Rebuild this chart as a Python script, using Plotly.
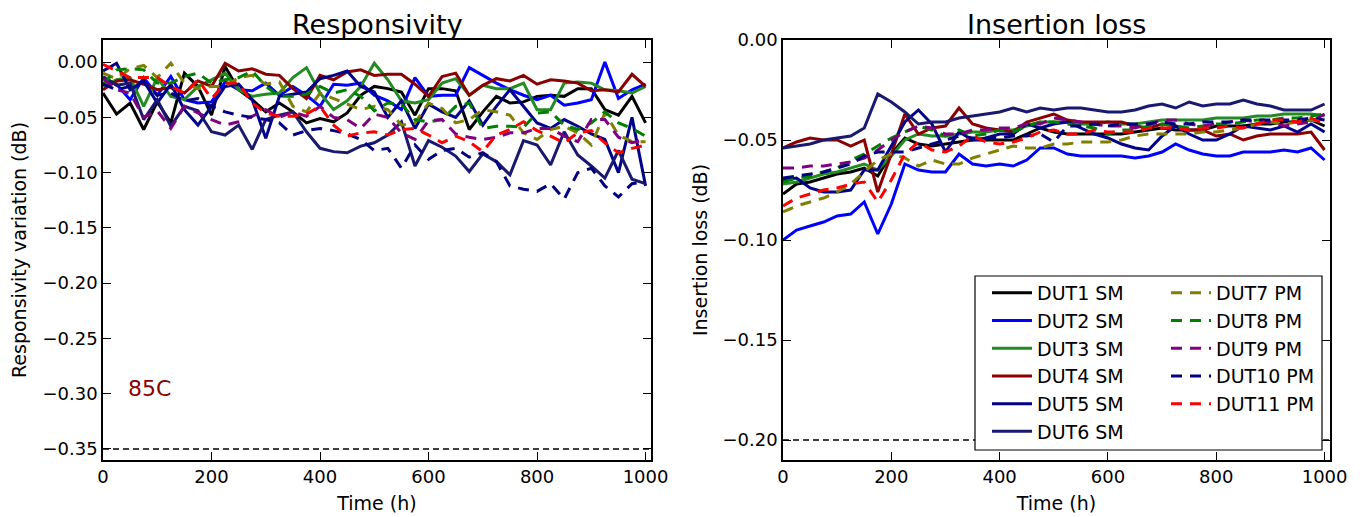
import plotly.graph_objects as go

# Time axis (h)
time_h = [0, 25, 50, 75, 100, 125, 150, 175, 200, 225, 250, 275, 300, 325, 350, 375, 400, 425, 450, 475,
          500, 525, 550, 575, 600, 625, 650, 675, 700, 725, 750, 775, 800, 825, 850, 875, 900, 925, 950, 975, 1000]

# Responsivity variation (dB)
resp_dut1 = [-0.028, -0.047, -0.037, -0.061, -0.036, -0.055, -0.010, -0.022, -0.048, -0.004, -0.025, -0.034, -0.045, -0.037, -0.045, -0.055, -0.051, -0.054, -0.046, -0.030,
             -0.022, -0.024, -0.027, -0.048, -0.024, -0.024, -0.026, -0.061, -0.045, -0.031, -0.037, -0.036, -0.031, -0.030, -0.031, -0.024, -0.024, -0.043, -0.048, -0.031, -0.055]
resp_dut2 = [-0.014, -0.020, -0.034, -0.014, -0.030, -0.013, -0.034, -0.037, -0.036, -0.018, -0.025, -0.026, -0.019, -0.030, -0.022, -0.030, -0.040, -0.020, -0.021, -0.019,
             -0.030, -0.035, -0.043, -0.014, -0.031, -0.030, -0.030, -0.005, -0.012, -0.019, -0.025, -0.030, -0.034, -0.030, -0.039, -0.037, -0.034, 0.000, -0.033, -0.025, -0.020]
resp_dut3 = [-0.022, -0.016, -0.014, -0.040, -0.014, -0.031, -0.034, -0.022, -0.016, -0.010, -0.025, -0.031, -0.029, -0.028, -0.014, -0.005, -0.028, -0.043, -0.035, -0.022,
             -0.001, -0.016, -0.035, -0.037, -0.034, -0.019, -0.015, -0.030, -0.021, -0.024, -0.024, -0.019, -0.043, -0.043, -0.019, -0.018, -0.019, -0.025, -0.026, -0.028, -0.022]
resp_dut4 = [-0.025, -0.017, -0.016, -0.020, -0.025, -0.023, -0.028, -0.017, -0.022, -0.001, -0.008, -0.006, -0.011, -0.012, -0.024, -0.033, -0.012, -0.016, -0.009, -0.007,
             -0.012, -0.011, -0.011, -0.020, -0.031, -0.013, -0.010, -0.030, -0.021, -0.015, -0.017, -0.012, -0.020, -0.016, -0.017, -0.019, -0.026, -0.025, -0.027, -0.011, -0.022]
resp_dut5 = [-0.008, -0.001, -0.025, -0.017, -0.037, -0.020, -0.043, -0.057, -0.040, -0.022, -0.020, -0.034, -0.069, -0.031, -0.029, -0.027, -0.015, -0.012, -0.008, -0.022,
             -0.027, -0.050, -0.035, -0.060, -0.038, -0.045, -0.050, -0.035, -0.057, -0.040, -0.025, -0.040, -0.055, -0.060, -0.052, -0.058, -0.065, -0.070, -0.100, -0.050, -0.112]
resp_dut6 = [-0.013, -0.021, -0.019, -0.052, -0.034, -0.058, -0.040, -0.044, -0.063, -0.066, -0.057, -0.079, -0.052, -0.048, -0.045, -0.063, -0.078, -0.081, -0.082, -0.076,
             -0.073, -0.066, -0.054, -0.094, -0.071, -0.077, -0.085, -0.099, -0.083, -0.090, -0.102, -0.071, -0.075, -0.093, -0.063, -0.084, -0.094, -0.105, -0.080, -0.106, -0.110]
resp_dut7 = [-0.010, -0.015, -0.006, -0.003, -0.014, -0.001, -0.019, -0.024, -0.022, -0.022, -0.014, -0.012, -0.020, -0.018, -0.040, -0.045, -0.028, -0.033, -0.038, -0.043,
             -0.040, -0.043, -0.057, -0.055, -0.037, -0.042, -0.055, -0.052, -0.043, -0.045, -0.048, -0.064, -0.070, -0.061, -0.058, -0.064, -0.075, -0.046, -0.066, -0.072, -0.072]
resp_dut8 = [-0.020, -0.007, -0.006, -0.007, -0.019, -0.019, -0.013, -0.010, -0.019, -0.016, -0.014, -0.008, -0.022, -0.031, -0.031, -0.029, -0.022, -0.028, -0.025, -0.031,
             -0.044, -0.037, -0.038, -0.052, -0.054, -0.052, -0.040, -0.037, -0.060, -0.058, -0.058, -0.059, -0.046, -0.045, -0.057, -0.061, -0.055, -0.045, -0.055, -0.060, -0.067]
resp_dut9 = [-0.015, -0.025, -0.028, -0.050, -0.044, -0.060, -0.040, -0.046, -0.052, -0.057, -0.054, -0.049, -0.043, -0.050, -0.045, -0.049, -0.040, -0.050, -0.052, -0.060,
             -0.047, -0.050, -0.064, -0.070, -0.053, -0.052, -0.065, -0.068, -0.070, -0.068, -0.064, -0.064, -0.060, -0.060, -0.067, -0.072, -0.052, -0.052, -0.068, -0.073, -0.070]
resp_dut10 = [-0.020, -0.025, -0.022, -0.018, -0.030, -0.028, -0.035, -0.033, -0.040, -0.045, -0.048, -0.050, -0.052, -0.055, -0.066, -0.062, -0.060, -0.062, -0.065, -0.070,
              -0.080, -0.078, -0.096, -0.075, -0.088, -0.080, -0.078, -0.086, -0.082, -0.090, -0.112, -0.115, -0.117, -0.110, -0.124, -0.100, -0.096, -0.112, -0.122, -0.110, -0.108]
resp_dut11 = [-0.002, -0.008, -0.014, -0.014, -0.014, -0.022, -0.028, -0.016, -0.033, -0.019, -0.019, -0.037, -0.046, -0.049, -0.049, -0.047, -0.040, -0.057, -0.067, -0.064,
              -0.063, -0.066, -0.061, -0.060, -0.066, -0.073, -0.067, -0.072, -0.081, -0.066, -0.061, -0.054, -0.062, -0.067, -0.073, -0.064, -0.062, -0.073, -0.082, -0.078, -0.075]

# Insertion loss (dB)
il_dut1 = [-0.077, -0.072, -0.071, -0.069, -0.067, -0.066, -0.064, -0.068, -0.057, -0.049, -0.052, -0.053, -0.052, -0.051, -0.050, -0.050, -0.050, -0.050, -0.047, -0.044,
           -0.046, -0.047, -0.047, -0.047, -0.047, -0.047, -0.046, -0.045, -0.044, -0.045, -0.045, -0.045, -0.043, -0.043, -0.043, -0.042, -0.042, -0.041, -0.041, -0.040, -0.043]
il_dut2 = [-0.100, -0.095, -0.093, -0.091, -0.088, -0.087, -0.081, -0.097, -0.082, -0.062, -0.065, -0.066, -0.066, -0.057, -0.062, -0.063, -0.062, -0.063, -0.060, -0.054,
           -0.054, -0.057, -0.058, -0.058, -0.058, -0.058, -0.059, -0.058, -0.056, -0.052, -0.055, -0.057, -0.058, -0.058, -0.056, -0.056, -0.056, -0.055, -0.056, -0.054, -0.060]
il_dut3 = [-0.072, -0.071, -0.069, -0.067, -0.066, -0.064, -0.062, -0.065, -0.058, -0.050, -0.047, -0.048, -0.048, -0.047, -0.046, -0.046, -0.045, -0.045, -0.043, -0.041,
           -0.041, -0.041, -0.042, -0.042, -0.041, -0.042, -0.042, -0.041, -0.040, -0.040, -0.040, -0.040, -0.039, -0.039, -0.039, -0.038, -0.038, -0.037, -0.037, -0.037, -0.038]
il_dut4 = [-0.054, -0.051, -0.049, -0.050, -0.050, -0.053, -0.050, -0.076, -0.057, -0.037, -0.047, -0.044, -0.043, -0.034, -0.042, -0.044, -0.045, -0.046, -0.041, -0.039,
           -0.037, -0.040, -0.041, -0.041, -0.041, -0.041, -0.043, -0.044, -0.042, -0.043, -0.045, -0.045, -0.048, -0.047, -0.050, -0.048, -0.047, -0.047, -0.047, -0.046, -0.055]
il_dut5 = [-0.070, -0.069, -0.074, -0.076, -0.076, -0.075, -0.065, -0.065, -0.053, -0.041, -0.035, -0.042, -0.056, -0.046, -0.050, -0.049, -0.047, -0.047, -0.042, -0.044,
           -0.042, -0.041, -0.044, -0.047, -0.049, -0.052, -0.054, -0.055, -0.048, -0.043, -0.047, -0.050, -0.050, -0.047, -0.043, -0.044, -0.045, -0.043, -0.046, -0.042, -0.046]
il_dut6 = [-0.054, -0.053, -0.052, -0.050, -0.049, -0.048, -0.044, -0.027, -0.031, -0.036, -0.042, -0.041, -0.041, -0.039, -0.038, -0.037, -0.036, -0.034, -0.036, -0.034,
           -0.035, -0.034, -0.034, -0.035, -0.036, -0.036, -0.035, -0.033, -0.032, -0.034, -0.031, -0.033, -0.032, -0.032, -0.030, -0.032, -0.033, -0.035, -0.035, -0.035, -0.032]
il_dut7 = [-0.086, -0.083, -0.081, -0.079, -0.076, -0.072, -0.066, -0.060, -0.057, -0.059, -0.063, -0.060, -0.062, -0.062, -0.059, -0.057, -0.055, -0.053, -0.054, -0.054,
           -0.052, -0.052, -0.051, -0.051, -0.051, -0.050, -0.048, -0.047, -0.047, -0.047, -0.047, -0.046, -0.046, -0.045, -0.044, -0.042, -0.041, -0.042, -0.041, -0.040, -0.041]
il_dut8 = [-0.071, -0.069, -0.068, -0.066, -0.064, -0.060, -0.057, -0.053, -0.049, -0.046, -0.043, -0.045, -0.048, -0.045, -0.048, -0.047, -0.045, -0.046, -0.043, -0.041,
           -0.041, -0.042, -0.043, -0.044, -0.047, -0.045, -0.045, -0.043, -0.042, -0.043, -0.044, -0.043, -0.042, -0.042, -0.041, -0.040, -0.040, -0.039, -0.039, -0.038, -0.037]
il_dut9 = [-0.064, -0.064, -0.063, -0.063, -0.062, -0.061, -0.059, -0.055, -0.050, -0.046, -0.043, -0.044, -0.047, -0.047, -0.045, -0.045, -0.044, -0.044, -0.042, -0.042,
           -0.039, -0.040, -0.041, -0.042, -0.043, -0.043, -0.044, -0.042, -0.040, -0.040, -0.042, -0.043, -0.042, -0.041, -0.040, -0.041, -0.041, -0.043, -0.042, -0.041, -0.037]
il_dut10 = [-0.069, -0.068, -0.067, -0.066, -0.064, -0.062, -0.058, -0.056, -0.056, -0.056, -0.054, -0.052, -0.050, -0.048, -0.049, -0.049, -0.049, -0.048, -0.048, -0.047,
            -0.051, -0.043, -0.043, -0.042, -0.043, -0.042, -0.042, -0.042, -0.041, -0.042, -0.042, -0.041, -0.041, -0.041, -0.040, -0.040, -0.040, -0.040, -0.040, -0.039, -0.040]
il_dut11 = [-0.083, -0.079, -0.077, -0.075, -0.074, -0.072, -0.071, -0.081, -0.070, -0.057, -0.051, -0.055, -0.056, -0.053, -0.048, -0.051, -0.052, -0.051, -0.049, -0.046,
            -0.045, -0.047, -0.047, -0.045, -0.046, -0.046, -0.046, -0.044, -0.044, -0.044, -0.045, -0.044, -0.044, -0.043, -0.044, -0.042, -0.040, -0.040, -0.041, -0.039, -0.042]

names = ["DUT1 SM", "DUT2 SM", "DUT3 SM", "DUT4 SM", "DUT5 SM", "DUT6 SM",
         "DUT7 PM", "DUT8 PM", "DUT9 PM", "DUT10 PM", "DUT11 PM"]
colors = ["#000000", "#0000FF", "#228B22", "#8B0000", "#00008B", "#191970",
          "#808000", "#008000", "#800080", "#000080", "#FF0000"]
resp_all = [resp_dut1, resp_dut2, resp_dut3, resp_dut4, resp_dut5, resp_dut6,
            resp_dut7, resp_dut8, resp_dut9, resp_dut10, resp_dut11]
il_all = [il_dut1, il_dut2, il_dut3, il_dut4, il_dut5, il_dut6,
          il_dut7, il_dut8, il_dut9, il_dut10, il_dut11]

resp_limit = -0.35
il_limit = -0.20

font_family = "DejaVu Sans"

# the page body has an 8px margin, so the figure is sized to fit the window
OFF = 8
W, H = 1368 - OFF, 517 - OFF


def fx(px):
    return (px - OFF) / W


def fy(py):
    return 1 - (py - OFF) / H


fig = go.Figure()

for name, col, resp, il in zip(names, colors, resp_all, il_all):
    pm = name.endswith("PM")
    line = dict(color=col, width=3, dash="11px,8px" if pm else "solid")
    fig.add_trace(go.Scatter(x=time_h, y=resp, mode="lines", name=name, line=line,
                             xaxis="x", yaxis="y", showlegend=False))
    fig.add_trace(go.Scatter(x=time_h, y=il, mode="lines", name=name, line=line,
                             xaxis="x2", yaxis="y2",
                             legend="legend2" if pm else "legend"))

# Dashed limit lines
fig.add_shape(type="line", xref="x domain", yref="y", x0=0, x1=1, y0=resp_limit, y1=resp_limit,
              line=dict(color="black", width=1.5, dash="6px,4px"))
fig.add_shape(type="line", xref="x2 domain", yref="y2", x0=0, x1=1, y0=il_limit, y1=il_limit,
              line=dict(color="black", width=1.5, dash="6px,4px"))

# Legend frame (two columns)
fig.add_shape(type="rect", xref="paper", yref="paper",
              x0=fx(975), x1=fx(1322), y0=fy(450), y1=fy(276),
              line=dict(color="black", width=1.2), fillcolor="white", layer="above")

yd = [fy(460), fy(40)]
axis_common = dict(showline=True, linecolor="black", linewidth=1.5, mirror="ticks",
                   ticks="inside", ticklen=8, tickwidth=1.2, tickcolor="black",
                   showgrid=False, zeroline=False, automargin=False,
                   tickfont=dict(family=font_family, size=18, color="black"))

fig.update_layout(
    width=W, height=H,
    margin=dict(l=0, r=0, t=0, b=0),
    paper_bgcolor="white", plot_bgcolor="white",
    font=dict(family=font_family, color="black"),
    xaxis=dict(domain=[fx(103), fx(651)], range=[0, 1010], tickvals=[0, 200, 400, 600, 800, 1000],
               title=dict(text="Time (h)", font=dict(size=19), standoff=10), anchor="y", **axis_common),
    yaxis=dict(domain=yd, range=[-0.36, 0.02], dtick=0.05, tick0=0, tickformat=".2f",
               title=dict(text="Responsivity variation (dB)", font=dict(size=19), standoff=13), anchor="x", **axis_common),
    xaxis2=dict(domain=[fx(783), fx(1330)], range=[0, 1010], tickvals=[0, 200, 400, 600, 800, 1000],
                title=dict(text="Time (h)", font=dict(size=19), standoff=10), anchor="y2", **axis_common),
    yaxis2=dict(domain=yd, range=[-0.21, 0.0], dtick=0.05, tick0=0, tickformat=".2f",
                title=dict(text="Insertion loss (dB)", font=dict(size=19), standoff=10), anchor="x2", **axis_common),
    legend=dict(x=fx(987), y=fy(274), xanchor="left", yanchor="top", bgcolor="rgba(0,0,0,0)",
                font=dict(size=19, family=font_family), itemwidth=40),
    legend2=dict(x=fx(1166), y=fy(274), xanchor="left", yanchor="top", bgcolor="rgba(0,0,0,0)",
                 font=dict(size=19, family=font_family), itemwidth=40),
    annotations=[
        dict(text="Responsivity", x=fx((103 + 651) / 2), y=1, xref="paper", yref="paper",
             showarrow=False, font=dict(size=27), xanchor="center", yanchor="top", borderpad=0),
        dict(text="Insertion loss", x=fx((783 + 1330) / 2), y=1, xref="paper", yref="paper",
             showarrow=False, font=dict(size=27), xanchor="center", yanchor="top", borderpad=0),
        dict(text="85C", x=85, y=-0.295, xref="x", yref="y", showarrow=False,
             font=dict(size=22, color="#8B0000"), xanchor="center", yanchor="middle"),
    ],
)

fig.write_html("out.html")
